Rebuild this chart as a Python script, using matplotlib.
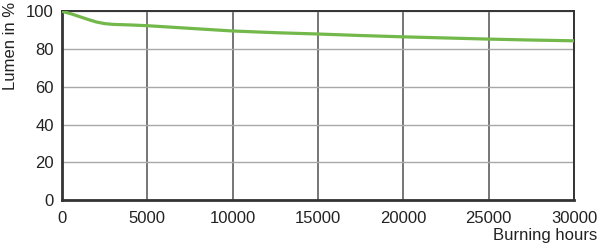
import matplotlib

matplotlib.use("Agg")

import matplotlib.pyplot as plt

# burning hours vs. remaining lumen (%)
hours = [0, 500, 1000, 1500, 2000, 2500, 3000, 4000, 5000, 7500,
         10000, 12500, 15000, 17500, 20000, 22500, 25000, 27500, 30000]
lumen = [100, 98.8, 97.3, 95.8, 94.4, 93.5, 93.1, 92.8, 92.4, 91.0,
         89.6, 88.7, 88.0, 87.2, 86.5, 85.9, 85.3, 84.8, 84.4]

x_ticks = [0, 5000, 10000, 15000, 20000, 25000, 30000]
y_ticks = [0, 20, 40, 60, 80, 100]

plt.rcParams["font.family"] = ["Liberation Sans", "DejaVu Sans"]

fig = plt.figure(figsize=(6.0, 2.47), dpi=100)
ax = fig.add_axes([0.1033, 0.19, 0.8534, 0.764])

ax.plot(hours, lumen, color="#72b84a", linewidth=2.3, solid_capstyle="butt", zorder=3)

ax.set_xlim(0, 30000)
ax.set_ylim(0, 100)
ax.set_xticks(x_ticks)
ax.set_yticks(y_ticks)
ax.tick_params(axis="both", length=0, labelsize=12, colors="#222222")
ax.tick_params(axis="x", pad=8)
ax.tick_params(axis="y", pad=6)

# vertical grid darker than horizontal grid
ax.xaxis.grid(True, color="#505050", linewidth=1.1)
ax.yaxis.grid(True, color="#a8a8a8", linewidth=1.0)
ax.set_axisbelow(True)

for side in ("left", "bottom"):
    ax.spines[side].set_linewidth(2.0)
    ax.spines[side].set_color("#333333")
for side in ("top", "right"):
    ax.spines[side].set_linewidth(1.4)
    ax.spines[side].set_color("#333333")

fig.text(0.018, 0.814, "Lumen in %", rotation=90, ha="center", va="center",
         fontsize=12, color="#222222")
fig.text(0.995, 0.048, "Burning hours", ha="right", va="center",
         fontsize=12, color="#222222")

fig.savefig("out.png", dpi=100, facecolor="white")
